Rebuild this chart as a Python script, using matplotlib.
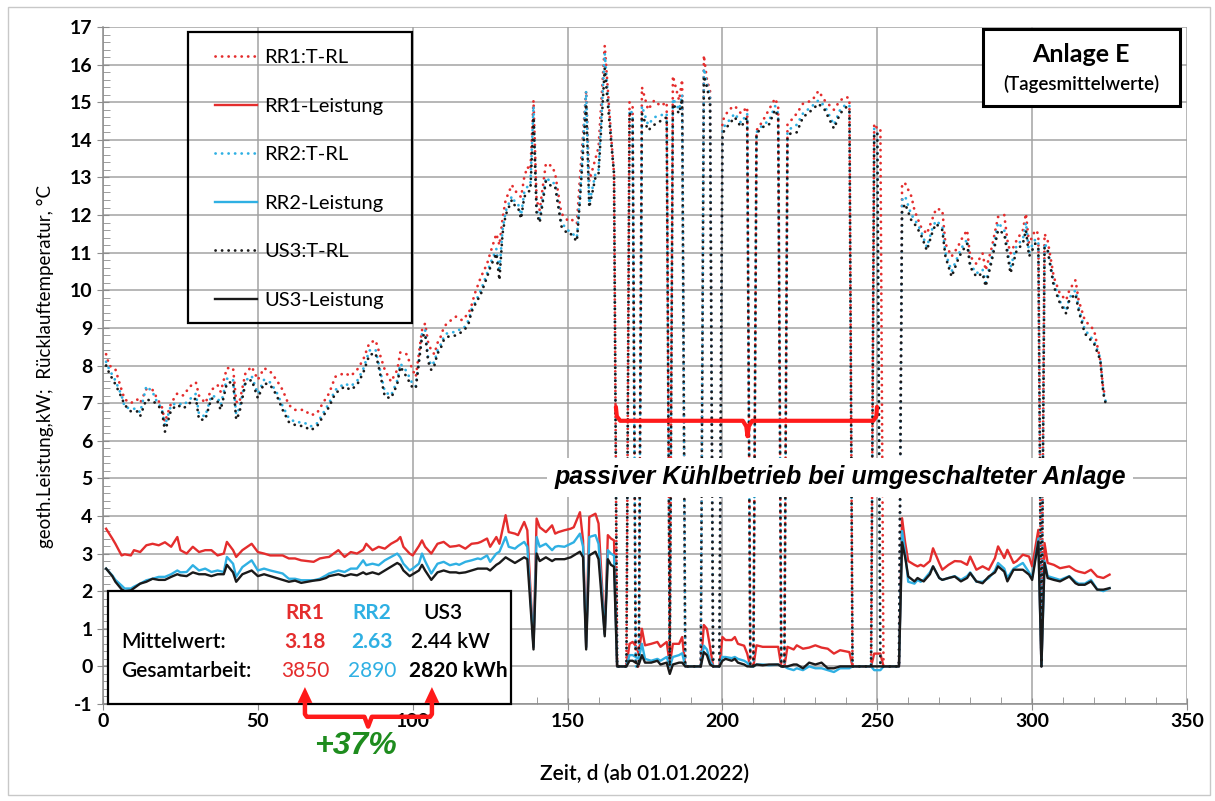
import matplotlib
matplotlib.use("Agg")
import matplotlib.pyplot as plt
from matplotlib.patches import Rectangle, Polygon
from matplotlib.ticker import MultipleLocator

plt.rcParams['font.family'] = ['Lato', 'DejaVu Sans']
plt.rcParams['axes.unicode_minus'] = False

W, H = 1215, 801

# ---- Rücklauftemperatur (T-RL), Tagesmittelwerte ----
t_days = [
    1, 2, 4, 6, 7, 9, 11, 12, 14, 16,
    17, 19, 20, 22, 24, 26, 28, 30, 31, 33,
    35, 37, 38, 40, 42, 43, 44, 46, 48, 50,
    52, 54, 56, 58, 60, 62, 65, 67, 69, 71,
    73, 75, 78, 80, 82, 84, 86, 88, 89, 91,
    93, 95, 96, 98, 100, 101, 103, 104, 105, 106,
    107, 108, 109, 110, 111, 114, 115, 116, 117, 118,
    119, 120, 122, 124, 125, 127, 128, 129, 130, 131,
    132, 133, 134, 135, 136, 137, 138, 139, 140, 141,
    143, 145, 146, 148, 150, 151, 153, 154, 156, 157,
    159, 160, 162, 164, 165, 166, 169, 170, 171, 172,
    173, 174, 176, 178, 180, 182, 183, 184, 186, 187,
    188, 193, 194, 195, 196, 197, 199, 200, 202, 204,
    206, 208, 209, 210, 211, 213, 215, 217, 218, 219,
    220, 221, 222, 224, 226, 229, 231, 233, 236, 238,
    240, 241, 242, 248, 249, 250, 251, 252, 257, 258,
    259, 261, 262, 264, 266, 268, 269, 271, 272, 274,
    276, 277, 279, 280, 282, 284, 285, 287, 289, 291,
    292, 293, 295, 297, 298, 299, 300, 301, 302, 303,
    304, 305, 307, 309, 311, 312, 314, 315, 317, 319,
    320, 322, 323, 324]

rr1_t = [
    8.3, 8.0, 7.9, 7.35, 7.1, 7.0, 7.1, 7.0, 7.37, 7.35,
    7.2, 6.9, 6.5, 7.0, 7.26, 7.2, 7.44, 7.55, 7.2, 7.0,
    7.35, 7.48, 7.3, 7.93, 7.93, 7.04, 7.0, 7.8, 7.97, 7.62,
    7.93, 7.84, 7.62, 7.35, 6.95, 6.82, 6.82, 6.68, 6.72, 7.0,
    7.26, 7.7, 7.8, 7.72, 7.88, 8.15, 8.6, 8.67, 8.4, 7.88,
    7.57, 7.88, 8.35, 8.3, 7.88, 7.7, 8.94, 9.12, 8.6, 8.4,
    8.3, 8.6, 8.76, 9.0, 9.12, 9.3, 9.25, 9.2, 9.3, 9.38,
    9.6, 9.9, 10.35, 10.7, 10.98, 11.5, 11.2, 11.9, 12.4, 12.6,
    12.8, 12.66, 12.55, 12.48, 13.0, 13.28, 13.2, 15.05, 12.4, 12.13,
    13.37, 13.3, 13.1, 12.04, 11.86, 11.9, 11.77, 13.0, 15.3, 12.9,
    13.5, 13.8, 16.5, 14.17, 13.1, 0, 0, 15.0, 14.9, 0,
    0, 15.4, 14.8, 15.05, 14.9, 15.0, 0, 15.7, 15.05, 15.6,
    0, 0, 16.25, 15.6, 15.3, 0, 0, 14.5, 14.8, 14.9,
    14.7, 14.87, 0, 0, 14.25, 14.5, 14.8, 15.1, 14.9, 0,
    0, 14.4, 14.5, 14.7, 14.96, 15.05, 15.3, 15.05, 14.8, 15.05,
    15.14, 15.1, 0, 0, 14.43, 14.3, 14.3, 0, 0, 12.84,
    12.84, 12.5, 12.13, 11.7, 11.5, 11.95, 12.17, 12.13, 11.24, 10.9,
    11.15, 11.33, 11.6, 10.9, 10.7, 10.98, 10.53, 11.15, 11.95, 12.0,
    11.33, 10.98, 11.33, 11.6, 12.04, 11.24, 11.42, 11.6, 11.5, 0,
    11.5, 11.33, 10.35, 9.9, 9.74, 10.0, 10.27, 9.74, 9.2, 9.03,
    8.94, 8.14, 7.34, 7.2]

rr2_t = [
    8.1, 7.9, 7.6, 7.2, 6.9, 6.85, 6.85, 6.75, 7.45, 7.3,
    7.1, 6.85, 6.4, 6.95, 7.0, 6.95, 7.1, 7.25, 6.7, 6.65,
    7.2, 7.15, 6.95, 7.65, 7.62, 6.7, 6.85, 7.6, 7.72, 7.25,
    7.62, 7.55, 7.3, 6.92, 6.6, 6.5, 6.48, 6.38, 6.45, 6.72,
    7.0, 7.35, 7.52, 7.45, 7.58, 7.9, 8.4, 8.42, 8.05, 7.3,
    7.2, 7.6, 8.05, 7.85, 7.5, 7.45, 8.85, 8.95, 8.2, 8.0,
    8.1, 8.4, 8.55, 8.75, 8.85, 8.9, 8.95, 8.95, 9.05, 9.2,
    9.5, 9.65, 10.0, 10.45, 10.7, 11.1, 10.5, 11.6, 12.1, 12.3,
    12.5, 12.35, 12.3, 12.0, 12.6, 12.75, 12.8, 14.9, 12.15, 11.9,
    13.0, 12.85, 12.85, 11.8, 11.6, 11.55, 11.4, 12.5, 15.3, 12.3,
    13.1, 13.2, 16.3, 14.1, 13.1, 0, 0, 14.8, 14.7, 0,
    0, 14.9, 14.4, 14.6, 14.65, 14.7, 0, 15.1, 14.8, 15.2,
    0, 0, 15.9, 15.5, 15.2, 0, 0, 14.3, 14.5, 14.7,
    14.45, 14.7, 0, 0, 14.2, 14.4, 14.5, 14.9, 14.7, 0,
    0, 14.2, 14.3, 14.4, 14.7, 14.9, 15.05, 14.9, 14.4, 14.8,
    14.95, 14.9, 0, 0, 14.3, 14.2, 0, 0, 0, 12.4,
    12.5, 12.0, 11.9, 11.6, 11.15, 11.7, 11.85, 11.7, 11.0, 10.5,
    10.9, 11.1, 11.35, 10.7, 10.45, 10.55, 10.2, 10.9, 11.8, 11.6,
    11.1, 10.6, 11.2, 11.35, 11.8, 11.0, 11.2, 11.35, 11.3, 0,
    11.25, 11.1, 10.2, 9.7, 9.45, 9.8, 10.0, 9.55, 8.95, 8.75,
    8.65, 8.2, 7.3, 6.95]

us3_t = [
    8.0, 7.8, 7.5, 7.15, 6.95, 6.78, 6.78, 6.65, 7.1, 7.05,
    7.0, 6.82, 6.24, 6.82, 6.95, 6.86, 7.0, 7.13, 6.56, 6.56,
    7.13, 7.04, 6.82, 7.53, 7.57, 6.56, 6.73, 7.53, 7.62, 7.13,
    7.53, 7.48, 7.22, 6.82, 6.5, 6.42, 6.38, 6.28, 6.37, 6.64,
    6.9, 7.26, 7.44, 7.35, 7.48, 7.8, 8.28, 8.33, 7.97, 7.17,
    7.13, 7.5, 7.97, 7.7, 7.4, 7.4, 8.76, 8.85, 8.1, 7.88,
    8.0, 8.32, 8.45, 8.67, 8.76, 8.8, 8.85, 8.9, 8.98, 9.1,
    9.43, 9.6, 9.9, 10.35, 10.6, 10.98, 10.27, 11.5, 12.0, 12.2,
    12.4, 12.25, 12.2, 11.9, 12.48, 12.6, 12.66, 14.6, 12.04, 11.8,
    12.9, 12.75, 12.75, 11.7, 11.5, 11.5, 11.3, 12.4, 14.96, 12.2,
    13.0, 13.1, 15.9, 14.0, 13.1, 0, 0, 14.7, 14.6, 0,
    0, 14.7, 14.25, 14.4, 14.5, 14.6, 0, 14.96, 14.7, 15.1,
    0, 0, 15.7, 15.4, 15.0, 0, 0, 14.17, 14.4, 14.6,
    14.34, 14.6, 0, 0, 14.17, 14.34, 14.4, 14.8, 14.6, 0,
    0, 14.07, 14.17, 14.2, 14.6, 14.8, 14.96, 14.8, 14.3, 14.7,
    14.87, 14.8, 0, 0, 14.17, 14.17, 0, 0, 0, 12.13,
    12.3, 11.86, 11.77, 11.5, 11.06, 11.6, 11.77, 11.6, 10.9, 10.36,
    10.8, 10.98, 11.24, 10.62, 10.36, 10.45, 10.1, 10.8, 11.6, 11.5,
    10.98, 10.45, 11.06, 11.24, 11.6, 10.9, 11.06, 11.24, 11.15, 0,
    11.15, 11.06, 10.1, 9.65, 9.38, 9.74, 9.9, 9.47, 8.85, 8.67,
    8.58, 8.14, 7.25, 6.9]

# ---- geothermische Leistung, kW ----
p_days = [
    1, 3, 4, 6, 7, 9, 10, 12, 14, 16,
    18, 20, 22, 24, 25, 27, 29, 31, 33, 35,
    37, 39, 40, 42, 43, 45, 48, 50, 52, 54,
    56, 58, 60, 62, 64, 66, 68, 70, 72, 73,
    76, 78, 80, 82, 84, 85, 87, 89, 91, 93,
    95, 96, 97, 99, 100, 102, 103, 104, 106, 108,
    110, 112, 114, 115, 117, 119, 121, 122, 124, 125,
    127, 128, 130, 131, 133, 134, 136, 137, 139, 140,
    141, 143, 145, 146, 147, 149, 151, 152, 154, 155,
    156, 157, 159, 160, 162, 163, 164, 165, 166, 169,
    170, 171, 172, 173, 174, 175, 177, 179, 180, 182,
    183, 184, 186, 187, 188, 193, 194, 195, 196, 197,
    199, 200, 201, 203, 204, 205, 207, 208, 209, 210,
    211, 213, 215, 218, 219, 220, 221, 223, 224, 226,
    228, 230, 232, 234, 236, 238, 241, 242, 248, 249,
    251, 252, 257, 258, 259, 260, 262, 263, 264, 265,
    267, 268, 270, 271, 273, 275, 277, 279, 280, 282,
    284, 286, 288, 289, 291, 292, 294, 295, 297, 299,
    300, 302, 303, 304, 305, 307, 309, 312, 314, 315,
    317, 319, 321, 323, 325]

rr1_p = [
    3.66, 3.4, 3.26, 2.95, 2.98, 2.95, 3.09, 3.04, 3.22, 3.26,
    3.22, 3.3, 3.18, 3.44, 3.09, 3.0, 3.18, 3.04, 3.09, 3.09,
    2.95, 3.0, 3.31, 3.09, 2.91, 3.09, 3.26, 3.04, 3.0, 2.95,
    2.95, 2.95, 2.87, 2.87, 2.82, 2.8, 2.78, 2.87, 2.9, 2.91,
    3.09, 2.91, 3.04, 3.0, 3.1, 3.26, 3.09, 3.18, 3.13, 3.26,
    3.35, 3.44, 3.18, 3.0, 2.95, 3.2, 3.35, 3.18, 3.0, 3.26,
    3.31, 3.18, 3.2, 3.22, 3.13, 3.26, 3.28, 3.31, 3.4, 3.18,
    3.44, 3.26, 4.02, 3.57, 3.53, 3.49, 3.84, 3.62, 0.52, 3.93,
    3.7, 3.57, 3.75, 3.53, 3.57, 3.62, 3.66, 3.7, 4.1, 3.35,
    0.52, 3.97, 4.06, 3.8, 0.87, 3.49, 3.4, 3.35, 0, 0,
    0.6, 0.65, 0.55, 0.34, 1.0, 0.56, 0.6, 0.65, 0.52, 0.65,
    0.05, 0.6, 0.6, 0.78, 0, 0, 1.1, 1.0, 0.52, 0,
    0, 0.78, 0.7, 0.7, 0.78, 0.6, 0.55, 0.34, 0, 0,
    0.56, 0.52, 0.52, 0.52, 0, 0, 0.52, 0.45, 0.56, 0.47,
    0.5, 0.56, 0.5, 0.47, 0.34, 0.43, 0.38, 0, 0, 0.34,
    0.34, 0, 0, 3.94, 3.29, 2.8, 2.7, 2.66, 2.7, 2.66,
    2.8, 3.14, 2.75, 2.57, 2.7, 2.8, 2.79, 2.7, 2.92, 2.57,
    2.66, 2.57, 2.88, 3.19, 2.88, 3.1, 2.75, 2.8, 2.97, 2.92,
    2.66, 3.63, 0, 3.28, 2.75, 2.7, 2.61, 2.66, 2.55, 2.52,
    2.48, 2.57, 2.39, 2.35, 2.44]

rr2_p = [
    2.6, 2.42, 2.3, 2.15, 2.07, 2.07, 2.12, 2.2, 2.29, 2.33,
    2.38, 2.38, 2.45, 2.55, 2.5, 2.51, 2.69, 2.55, 2.6, 2.51,
    2.55, 2.51, 2.91, 2.73, 2.38, 2.64, 2.82, 2.55, 2.6, 2.55,
    2.51, 2.47, 2.33, 2.33, 2.29, 2.29, 2.29, 2.33, 2.42, 2.47,
    2.55, 2.51, 2.6, 2.6, 2.82, 2.69, 2.73, 2.69, 2.82, 2.91,
    3.0, 2.9, 2.73, 2.55, 2.6, 2.73, 3.0, 2.8, 2.47, 2.73,
    2.78, 2.69, 2.73, 2.7, 2.78, 2.82, 2.87, 2.85, 2.95, 2.78,
    3.0, 3.05, 3.44, 3.18, 3.13, 3.2, 3.31, 3.18, 0.52, 3.44,
    3.18, 3.26, 3.09, 3.18, 3.2, 3.18, 3.26, 3.3, 3.53, 3.18,
    0.5, 3.44, 3.49, 3.26, 0.85, 3.09, 3.0, 2.95, 0, 0,
    0.3, 0.3, 0.25, 0.2, 0.6, 0.2, 0.15, 0.2, 0.15, 0.25,
    0.0, 0.25, 0.3, 0.35, 0, 0, 0.55, 0.45, 0.15, 0,
    0, 0.25, 0.25, 0.22, 0.25, 0.2, 0.15, 0.1, 0, 0,
    0.05, 0.05, 0.03, 0.05, 0, 0, -0.05, -0.1, -0.05, -0.1,
    0.0, -0.05, -0.05, -0.1, -0.15, -0.05, -0.05, 0, 0, -0.1,
    -0.1, 0, 0, 3.6, 3.0, 2.25, 2.2, 2.3, 2.25, 2.3,
    2.5, 2.66, 2.35, 2.3, 2.35, 2.4, 2.3, 2.4, 2.5, 2.25,
    2.25, 2.35, 2.55, 2.75, 2.6, 2.35, 2.6, 2.65, 2.75, 2.5,
    2.35, 3.4, 0, 2.8, 2.4, 2.35, 2.3, 2.4, 2.25, 2.2,
    2.2, 2.3, 2.05, 2.0, 2.08]

us3_p = [
    2.6, 2.4, 2.25, 2.05, 2.0, 2.02, 2.08, 2.2, 2.25, 2.33,
    2.3, 2.3, 2.38, 2.45, 2.42, 2.4, 2.5, 2.45, 2.45, 2.4,
    2.45, 2.45, 2.7, 2.5, 2.25, 2.45, 2.55, 2.4, 2.45, 2.4,
    2.35, 2.3, 2.25, 2.28, 2.22, 2.25, 2.28, 2.3, 2.35, 2.4,
    2.45, 2.4, 2.45, 2.42, 2.5, 2.45, 2.5, 2.45, 2.55, 2.65,
    2.75, 2.7, 2.55, 2.4, 2.45, 2.55, 2.7, 2.55, 2.3, 2.5,
    2.55, 2.5, 2.5, 2.48, 2.5, 2.55, 2.6, 2.6, 2.6, 2.55,
    2.7, 2.75, 2.9, 2.85, 2.75, 2.8, 2.9, 2.85, 0.45, 3.0,
    2.8, 2.9, 2.8, 2.85, 2.85, 2.85, 2.9, 2.95, 3.05, 2.9,
    0.45, 2.95, 3.05, 2.85, 0.8, 2.85, 2.7, 2.65, 0, 0,
    0.15, 0.15, 0.1, 0.05, 0.3, 0.1, 0.1, 0.15, 0.05, 0.1,
    -0.2, 0.05, 0.1, 0.1, 0, 0, 0.38, 0.3, 0.05, 0,
    0, 0.15, 0.2, 0.15, 0.2, 0.1, 0.05, 0.0, 0, 0,
    0.05, 0.03, 0.05, 0.05, 0, 0, 0.0, 0.05, 0.05, -0.05,
    0.1, 0.05, 0.1, -0.05, -0.05, 0.0, 0.0, 0, 0, 0.0,
    0.0, 0, 0, 3.3, 2.9, 2.39, 2.26, 2.35, 2.3, 2.26,
    2.45, 2.66, 2.35, 2.3, 2.35, 2.39, 2.26, 2.35, 2.48, 2.26,
    2.21, 2.39, 2.5, 2.66, 2.52, 2.26, 2.57, 2.57, 2.57, 2.44,
    2.3, 3.32, 0, 2.75, 2.35, 2.3, 2.26, 2.39, 2.21, 2.17,
    2.17, 2.26, 2.04, 2.04, 2.08]

series_names = ['RR1', 'RR2', 'US3']
mittelwert = ['3.18', '2.63', '2.44']
gesamtarbeit = ['3850', '2890', '2820']
zuwachs = '+37%'

RED = '#e42d2d'
CYAN = '#2fb0e3'
BLACK = '#1a1a1a'
GRID = '#a3a3a3'
ARROW = '#ff1a1a'


def fx(x):
    return x / W


def fy(y):
    return 1 - y / H


fig = plt.figure(figsize=(W / 100, H / 100), dpi=100)
ax = fig.add_axes([fx(103), fy(704), (1187 - 103) / W, (704 - 27) / H])

dots = dict(ls=(0, (0.05, 2.3)), lw=2.0, dash_capstyle='round')
ax.plot(t_days, rr1_t, color=RED, label='RR1:T-RL', **dots)
ax.plot(p_days, rr1_p, color=RED, lw=1.7, label='RR1-Leistung')
ax.plot(t_days, rr2_t, color=CYAN, label='RR2:T-RL', **dots)
ax.plot(p_days, rr2_p, color=CYAN, lw=1.7, label='RR2-Leistung')
ax.plot(t_days, us3_t, color=BLACK, label='US3:T-RL', **dots)
ax.plot(p_days, us3_p, color=BLACK, lw=1.7, label='US3-Leistung')

ax.set_xlim(0, 350)
ax.set_ylim(-1, 17)
ax.xaxis.set_major_locator(MultipleLocator(50))
ax.xaxis.set_minor_locator(MultipleLocator(10))
ax.yaxis.set_major_locator(MultipleLocator(1))
ax.yaxis.set_minor_locator(MultipleLocator(0.2))
ax.grid(which='major', color=GRID, lw=1.1)
ax.set_axisbelow(True)
for s in ['top', 'right']:
    ax.spines[s].set_visible(False)
for s in ['left', 'bottom']:
    ax.spines[s].set_color('#8c8c8c')
    ax.spines[s].set_linewidth(1.1)
ax.tick_params(which='major', direction='inout', length=9, color='#8c8c8c',
               labelsize=14)
ax.tick_params(axis='x', which='major', pad=2)
ax.tick_params(axis='y', which='major', pad=3)
ax.tick_params(which='minor', direction='in', length=5, color='#8c8c8c')
for lab in ax.get_xticklabels() + ax.get_yticklabels():
    lab.set_fontweight('bold')

ax.set_xlabel('Zeit, d (ab 01.01.2022)', fontsize=15, fontweight='semibold',
              labelpad=24)
fig.text(fx(45), fy(366), 'geoth.Leistung,kW;  Rücklauftemperatur, °C',
         rotation=90, ha='center', va='center', fontsize=13.5)

# legend
leg = ax.legend(loc='upper left', bbox_to_anchor=(0.103, 0.967), frameon=False,
                fontsize=14.5, handlelength=2.1, handletextpad=0.35,
                labelspacing=1.56, borderpad=0, borderaxespad=0)
leg.set_zorder(6)
ax.add_patch(Rectangle((fx(188), fy(323)), (412 - 188) / W, (323 - 32) / H,
                       transform=fig.transFigure, fill=False, ec='black',
                       lw=1.6, zorder=6, clip_on=False))

# Anlage box
ax.add_patch(Rectangle((fx(983), fy(106)), (1180 - 983) / W, (106 - 29) / H,
                       transform=fig.transFigure, fc='white', ec='black',
                       lw=2.2, zorder=6, clip_on=False))
fig.text(fx(1081), fy(55), 'Anlage E', ha='center', va='center',
         fontsize=18, fontweight='bold', zorder=7)
fig.text(fx(1081), fy(84), '(Tagesmittelwerte)', ha='center', va='center',
         fontsize=13.5, fontweight='semibold', zorder=7)

# brace over passive period
bx = [165.6, 165.9, 167.0, 206.6, 207.7, 208.1, 208.5, 209.6, 248.7, 249.7, 249.9]
by = [6.90, 6.65, 6.53, 6.53, 6.38, 6.12, 6.38, 6.53, 6.53, 6.65, 6.90]
ax.plot(bx, by, color=ARROW, lw=3.0, solid_joinstyle='round',
        solid_capstyle='round', zorder=5)
ax.text(238, 5.03, 'passiver Kühlbetrieb bei umgeschalteter Anlage',
        ha='center', va='center', fontsize=18, fontweight='bold',
        style='italic', family=['Liberation Sans', 'DejaVu Sans'], zorder=7,
        bbox=dict(boxstyle='square,pad=0.3', fc='white', ec='none'))

# stats box
ax.add_patch(Rectangle((fx(108), fy(704)), (511 - 108) / W, (704 - 591) / H,
                       transform=fig.transFigure, fc='white', ec='black',
                       lw=1.6, zorder=6, clip_on=False))
cols = [305, 372]
colors = [RED, CYAN]
for i in range(2):
    fig.text(fx(cols[i]), fy(613), series_names[i], ha='center', va='center',
             fontsize=15, fontweight='bold', color=colors[i], zorder=7)
    fig.text(fx(cols[i]), fy(642), mittelwert[i], ha='center', va='center',
             fontsize=15, fontweight='bold', color=colors[i], zorder=7)
    fig.text(fx(cols[i]), fy(671), gesamtarbeit[i], ha='center', va='center',
             fontsize=15, color=colors[i], zorder=7)
fig.text(fx(423), fy(613), series_names[2], ha='left', va='center',
         fontsize=15, fontweight='semibold', color='black', zorder=7)
fig.text(fx(411), fy(642), mittelwert[2] + ' kW', ha='left', va='center',
         fontsize=15, fontweight='semibold', color='black', zorder=7)
fig.text(fx(409), fy(671), gesamtarbeit[2] + ' kWh', ha='left', va='center',
         fontsize=15, fontweight='bold', color='black', zorder=7)
fig.text(fx(121), fy(642), 'Mittelwert:', ha='left', va='center',
         fontsize=15, fontweight='semibold', zorder=7)
fig.text(fx(121), fy(671), 'Gesamtarbeit:', ha='left', va='center',
         fontsize=15, fontweight='semibold', zorder=7)

# arrows 3850 -> 2820
ax1, ax2, axm = 65.2, 106.2, 85.6
ax.plot([ax1, ax1, ax1 + 0.6, axm - 1.2, axm, axm + 1.2, ax2 - 0.6, ax2, ax2],
        [-0.9, -1.27, -1.34, -1.34, -1.6, -1.34, -1.34, -1.27, -0.9],
        color=ARROW, lw=3.2, solid_joinstyle='round', clip_on=False,
        zorder=8)
for xa in (ax1, ax2):
    ax.add_patch(Polygon([[xa, -0.55], [xa - 2.4, -0.97], [xa + 2.4, -0.97]],
                         closed=True, fc=ARROW, ec='none', clip_on=False,
                         zorder=8))
ax.text(81.4, -2.12, zuwachs, ha='center', va='center', fontsize=23,
        fontweight='bold', style='italic', color='#1e8c1e',
        family=['Liberation Sans Narrow', 'Liberation Sans'], zorder=8)

# outer chart border
fig.add_artist(Rectangle((fx(8), fy(795)), (1210 - 8) / W, (795 - 7) / H,
                         transform=fig.transFigure, fill=False, ec='#c8c8c8',
                         lw=1.0))

fig.savefig('out.png', dpi=100, facecolor='white')
